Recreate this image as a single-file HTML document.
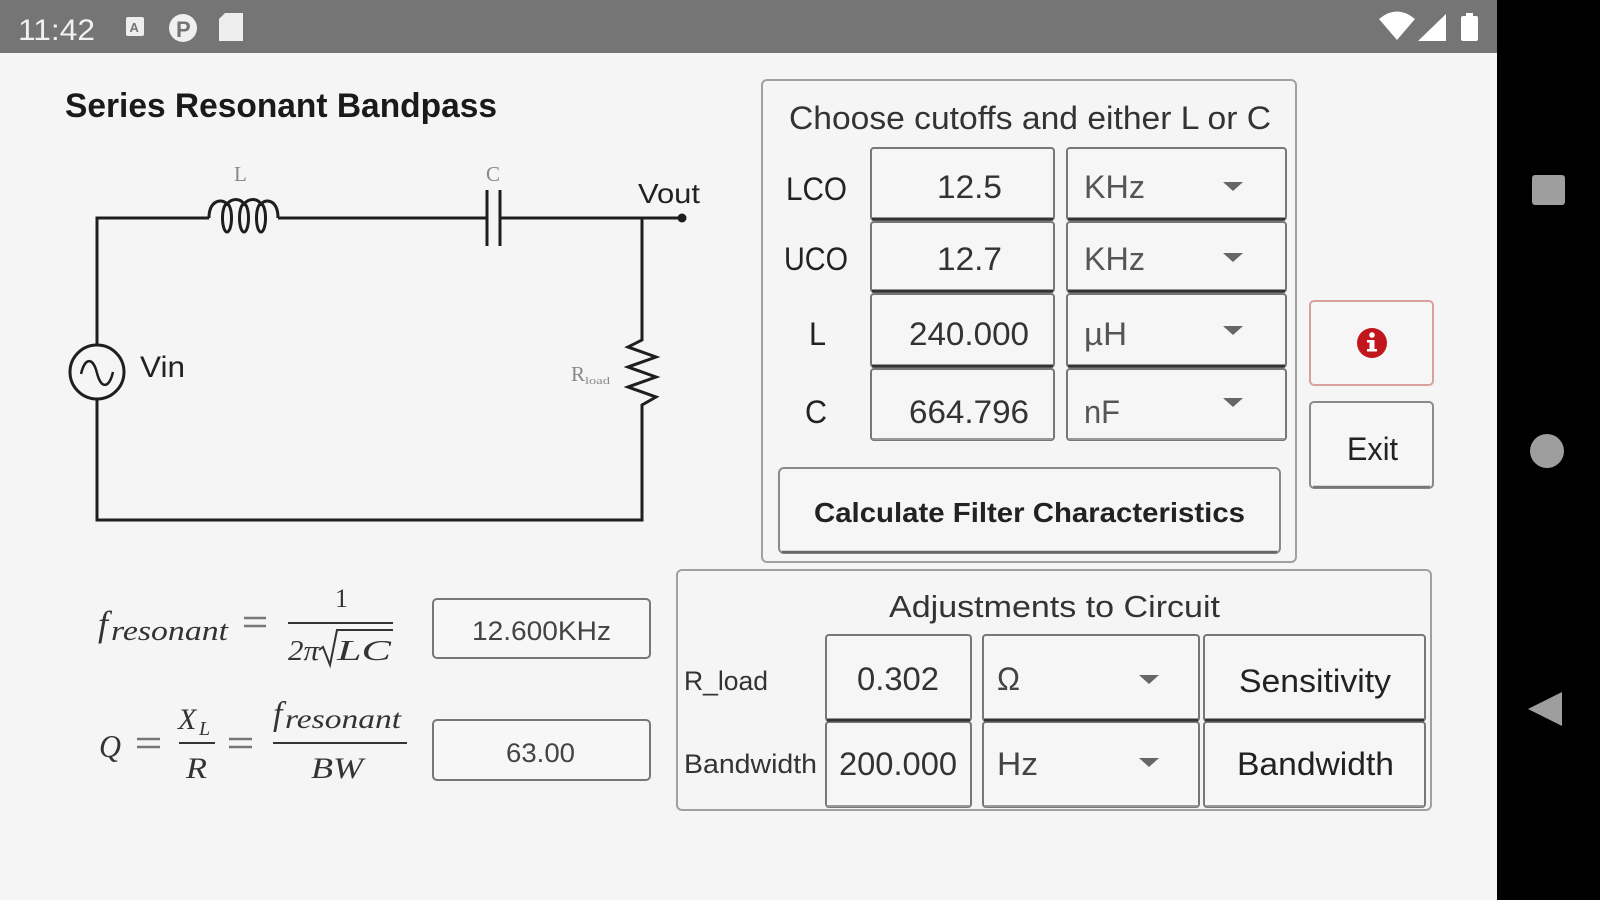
<!DOCTYPE html>
<html>
<head>
<meta charset="utf-8">
<style>
  html,body{margin:0;padding:0;background:#f5f5f5;}
  svg{display:block;}
  .s{font-family:"Liberation Sans",sans-serif;}
  .m{font-family:"Liberation Serif",serif;font-style:italic;}
</style>
</head>
<body>
<svg width="1600" height="900" viewBox="0 0 1600 900" xmlns="http://www.w3.org/2000/svg">
  <rect width="1600" height="900" fill="#f5f5f5"/>
  <!-- status bar -->
  <rect x="0" y="0" width="1497" height="53" fill="#757575"/>
  <text class="s" x="18" y="40" font-size="30" fill="#f2f2f2" textLength="77" lengthAdjust="spacingAndGlyphs">11:42</text>
  <rect x="126" y="17" width="18" height="19" rx="2" fill="#eeeeee"/>
  <text class="s" x="129.5" y="32" font-size="13" font-weight="bold" fill="#757575">A</text>
  <circle cx="183" cy="28" r="14" fill="#f0f0f0"/>
  <text class="s" x="176" y="37" font-size="22" font-weight="bold" fill="#757575">P</text>
  <path d="M225 13 H243 V41 H219 V19 Z" fill="#eeeeee"/>
  <path d="M1397 40 L1379 19 Q1397 4 1415 19 Z" fill="#ffffff"/>
  <path d="M1418 41 L1446 41 L1446 14 Z" fill="#ffffff"/>
  <rect x="1461" y="16" width="17" height="25" rx="2" fill="#ffffff"/>
  <rect x="1466" y="13" width="7" height="4" fill="#ffffff"/>

  <!-- nav bar -->
  <rect x="1497" y="0" width="103" height="900" fill="#000"/>
  <rect x="1532" y="175" width="33" height="30" rx="3" fill="#9e9e9e"/>
  <circle cx="1547" cy="451" r="17" fill="#9e9e9e"/>
  <polygon points="1528,709 1562,692 1562,726" fill="#9e9e9e"/>

  <!-- title -->
  <text class="s" x="65" y="117" font-size="34" font-weight="bold" fill="#1a1a1a" textLength="432" lengthAdjust="spacingAndGlyphs">Series Resonant Bandpass</text>

  <!-- circuit -->
  <g stroke="#1e1e1e" stroke-width="3" fill="none" stroke-linejoin="miter">
    <path d="M97,345 V218 H209"/>
    <path d="M209,218 C209,200 222,198 227,204 C232,198 240,198 244,204 C249,198 257,198 261,204 C266,198 278,200 278,218"/>
    <ellipse cx="227" cy="218" rx="4.5" ry="14"/>
    <ellipse cx="244" cy="218" rx="4.5" ry="14"/>
    <ellipse cx="261" cy="218" rx="4.5" ry="14"/>
    <path d="M278,218 H487"/>
    <path d="M487,190 V246"/>
    <path d="M500,190 V246"/>
    <path d="M500,218 H682"/>
    <path d="M642,218 V340 L628,347 L656,357 L628,367 L656,377 L628,387 L656,397 L642,405 V520 H97 V399"/>
    <circle cx="97" cy="372" r="27"/>
    <path d="M81,374 C85,357 93,357 97,373 C101,389 109,389 113,372" stroke-width="2.5"/>
  </g>
  <circle cx="682" cy="218" r="4.5" fill="#1e1e1e"/>
  <text x="234" y="181" font-family="Liberation Serif,serif" font-size="21" fill="#888">L</text>
  <text x="486" y="181" font-family="Liberation Serif,serif" font-size="21" fill="#888">C</text>
  <text class="s" x="638" y="203" font-size="28" fill="#222" textLength="62" lengthAdjust="spacingAndGlyphs">Vout</text>
  <text class="s" x="140" y="377" font-size="30" fill="#222" textLength="45" lengthAdjust="spacingAndGlyphs">Vin</text>
  <text x="571" y="381" font-family="Liberation Serif,serif" font-size="21" fill="#888">R</text>
  <text x="585" y="384" font-family="Liberation Serif,serif" font-size="11" fill="#888" textLength="25" lengthAdjust="spacingAndGlyphs">load</text>

  <!-- formula 1 -->
  <text class="m" x="98" y="636" font-size="36" fill="#333">f</text>
  <text class="m" x="111" y="640" font-size="28" fill="#333" textLength="117" lengthAdjust="spacingAndGlyphs">resonant</text>
  <g stroke="#777" stroke-width="2.5">
    <line x1="244" y1="618" x2="266" y2="618"/>
    <line x1="244" y1="626" x2="266" y2="626"/>
  </g>
  <text x="335" y="607" font-family="Liberation Serif,serif" font-size="26" fill="#333">1</text>
  <line x1="288" y1="623" x2="393" y2="623" stroke="#333" stroke-width="2"/>
  <text class="m" x="288" y="660" font-size="28" fill="#333" textLength="31" lengthAdjust="spacingAndGlyphs">2π</text>
  <path d="M319,650 L323,647 L330,665 L337,630 H393" stroke="#333" stroke-width="2" fill="none"/>
  <text class="m" x="337" y="660" font-size="28" fill="#333" textLength="54" lengthAdjust="spacingAndGlyphs">LC</text>
  <rect x="433" y="599" width="217" height="59" rx="4" fill="#f7f7f7" stroke="#777" stroke-width="2"/>
  <text class="s" x="472" y="640" font-size="27" fill="#444" textLength="139" lengthAdjust="spacingAndGlyphs">12.600KHz</text>

  <!-- formula 2 -->
  <text class="m" x="99" y="757" font-size="32" fill="#333" textLength="22" lengthAdjust="spacingAndGlyphs">Q</text>
  <g stroke="#777" stroke-width="2.5">
    <line x1="137" y1="739" x2="160" y2="739"/>
    <line x1="137" y1="747" x2="160" y2="747"/>
    <line x1="229" y1="739" x2="252" y2="739"/>
    <line x1="229" y1="747" x2="252" y2="747"/>
  </g>
  <text class="m" x="178" y="729" font-size="30" fill="#333">X</text>
  <text class="m" x="199" y="735" font-size="20" fill="#333">L</text>
  <line x1="179" y1="743" x2="215" y2="743" stroke="#333" stroke-width="2"/>
  <text class="m" x="186" y="778" font-size="30" fill="#333" textLength="21" lengthAdjust="spacingAndGlyphs">R</text>
  <text class="m" x="273" y="725" font-size="34" fill="#333">f</text>
  <text class="m" x="285" y="728" font-size="27" fill="#333" textLength="116" lengthAdjust="spacingAndGlyphs">resonant</text>
  <line x1="273" y1="743" x2="407" y2="743" stroke="#333" stroke-width="2"/>
  <text class="m" x="311" y="778" font-size="30" fill="#333" textLength="52" lengthAdjust="spacingAndGlyphs">BW</text>
  <rect x="433" y="720" width="217" height="60" rx="4" fill="#f7f7f7" stroke="#777" stroke-width="2"/>
  <text class="s" x="506" y="762" font-size="27" fill="#444" textLength="69" lengthAdjust="spacingAndGlyphs">63.00</text>

  <!-- panel 1 -->
  <rect x="762" y="80" width="534" height="482" rx="5" fill="none" stroke="#a0a0a0" stroke-width="2"/>
  <text class="s" x="789" y="129" font-size="32" fill="#333" textLength="482" lengthAdjust="spacingAndGlyphs">Choose cutoffs and either L or C</text>

  <g fill="#f6f6f6" stroke="#777" stroke-width="2">
    <rect x="871" y="148" width="183" height="72" rx="3"/>
    <rect x="1067" y="148" width="219" height="72" rx="3"/>
    <rect x="871" y="222" width="183" height="70" rx="3"/>
    <rect x="1067" y="222" width="219" height="70" rx="3"/>
    <rect x="871" y="294" width="183" height="73" rx="3"/>
    <rect x="1067" y="294" width="219" height="73" rx="3"/>
    <rect x="871" y="369" width="183" height="71" rx="3"/>
    <rect x="1067" y="369" width="219" height="71" rx="3"/>
  </g>
  <g stroke="#333" stroke-width="3">
    <line x1="872" y1="219" x2="1053" y2="219"/>
    <line x1="1068" y1="219" x2="1285" y2="219"/>
    <line x1="872" y1="291" x2="1053" y2="291"/>
    <line x1="1068" y1="291" x2="1285" y2="291"/>
    <line x1="872" y1="366" x2="1053" y2="366"/>
    <line x1="1068" y1="366" x2="1285" y2="366"/>
  </g>
  <g stroke="#999" stroke-width="2">
    <line x1="873" y1="439" x2="1052" y2="439"/>
    <line x1="1069" y1="439" x2="1284" y2="439"/>
  </g>

  <g class="s" font-size="32" fill="#222">
    <text x="786" y="200" textLength="61" lengthAdjust="spacingAndGlyphs">LCO</text>
    <text x="784" y="270" textLength="64" lengthAdjust="spacingAndGlyphs">UCO</text>
    <text x="809" y="345" textLength="17" lengthAdjust="spacingAndGlyphs">L</text>
    <text x="805" y="423" textLength="22" lengthAdjust="spacingAndGlyphs">C</text>
  </g>
  <g class="s" font-size="32" fill="#333">
    <text x="937" y="198" textLength="65" lengthAdjust="spacingAndGlyphs">12.5</text>
    <text x="937" y="270" textLength="65" lengthAdjust="spacingAndGlyphs">12.7</text>
    <text x="909" y="345" textLength="120" lengthAdjust="spacingAndGlyphs">240.000</text>
    <text x="909" y="423" textLength="120" lengthAdjust="spacingAndGlyphs">664.796</text>
  </g>
  <g class="s" font-size="32" fill="#555">
    <text x="1084" y="198" textLength="61" lengthAdjust="spacingAndGlyphs">KHz</text>
    <text x="1084" y="270" textLength="61" lengthAdjust="spacingAndGlyphs">KHz</text>
    <text x="1084" y="345" textLength="43" lengthAdjust="spacingAndGlyphs">µH</text>
    <text x="1084" y="423" textLength="36" lengthAdjust="spacingAndGlyphs">nF</text>
  </g>
  <g fill="#666">
    <polygon points="1223,182 1243,182 1233,191"/>
    <polygon points="1223,253 1243,253 1233,262"/>
    <polygon points="1223,326 1243,326 1233,335"/>
    <polygon points="1223,398 1243,398 1233,407"/>
  </g>

  <!-- calculate button -->
  <rect x="779" y="468" width="501" height="85" rx="5" fill="#f6f6f6" stroke="#8a8a8a" stroke-width="2"/>
  <line x1="782" y1="552" x2="1277" y2="552" stroke="#666" stroke-width="2.5"/>
  <text class="s" x="814" y="522" font-size="28" font-weight="bold" fill="#222" textLength="431" lengthAdjust="spacingAndGlyphs">Calculate Filter Characteristics</text>

  <!-- info button -->
  <rect x="1310" y="301" width="123" height="84" rx="4" fill="#f6f6f6" stroke="#d9a0a0" stroke-width="2"/>
  <circle cx="1372" cy="343" r="15" fill="#c0161c"/>
  <circle cx="1372" cy="335" r="2.8" fill="#fff"/>
  <rect x="1369.5" y="340" width="5" height="11" fill="#fff"/>
  <rect x="1367" y="340" width="5" height="2.5" fill="#fff"/>
  <rect x="1367" y="349" width="10" height="2.5" fill="#fff"/>

  <!-- exit button -->
  <rect x="1310" y="402" width="123" height="86" rx="4" fill="#f6f6f6" stroke="#8a8a8a" stroke-width="2"/>
  <line x1="1313" y1="487" x2="1430" y2="487" stroke="#777" stroke-width="2.5"/>
  <text class="s" x="1347" y="460" font-size="32" fill="#222" textLength="51" lengthAdjust="spacingAndGlyphs">Exit</text>

  <!-- panel 2 -->
  <rect x="677" y="570" width="754" height="240" rx="5" fill="none" stroke="#a0a0a0" stroke-width="2"/>
  <text class="s" x="889" y="617" font-size="31" fill="#333" textLength="331" lengthAdjust="spacingAndGlyphs">Adjustments to Circuit</text>

  <g fill="#f6f6f6" stroke="#777" stroke-width="2">
    <rect x="826" y="635" width="145" height="86" rx="3"/>
    <rect x="983" y="635" width="216" height="86" rx="3"/>
    <rect x="1204" y="635" width="221" height="86" rx="3"/>
    <rect x="826" y="722" width="145" height="85" rx="3"/>
    <rect x="983" y="722" width="216" height="85" rx="3"/>
    <rect x="1204" y="722" width="221" height="85" rx="3"/>
  </g>
  <g stroke="#333" stroke-width="3">
    <line x1="827" y1="720" x2="970" y2="720"/>
    <line x1="984" y1="720" x2="1198" y2="720"/>
    <line x1="1205" y1="720" x2="1424" y2="720"/>
  </g>
  <g stroke="#999" stroke-width="2">
    <line x1="828" y1="806" x2="969" y2="806"/>
    <line x1="985" y1="806" x2="1197" y2="806"/>
    <line x1="1206" y1="806" x2="1423" y2="806"/>
  </g>

  <g class="s" fill="#333">
    <text x="684" y="690" font-size="27" textLength="84" lengthAdjust="spacingAndGlyphs">R_load</text>
    <text x="684" y="773" font-size="27" textLength="133" lengthAdjust="spacingAndGlyphs">Bandwidth</text>
    <text x="857" y="690" font-size="32" textLength="82" lengthAdjust="spacingAndGlyphs">0.302</text>
    <text x="839" y="775" font-size="32" textLength="118" lengthAdjust="spacingAndGlyphs">200.000</text>
    <text x="997" y="690" font-size="32" fill="#444" textLength="23" lengthAdjust="spacingAndGlyphs">Ω</text>
    <text x="997" y="775" font-size="32" fill="#444" textLength="41" lengthAdjust="spacingAndGlyphs">Hz</text>
    <text x="1239" y="692" font-size="32" fill="#222" textLength="152" lengthAdjust="spacingAndGlyphs">Sensitivity</text>
    <text x="1237" y="775" font-size="32" fill="#222" textLength="157" lengthAdjust="spacingAndGlyphs">Bandwidth</text>
  </g>
  <g fill="#666">
    <polygon points="1139,675 1159,675 1149,684"/>
    <polygon points="1139,758 1159,758 1149,767"/>
  </g>
</svg>
</body>
</html>
